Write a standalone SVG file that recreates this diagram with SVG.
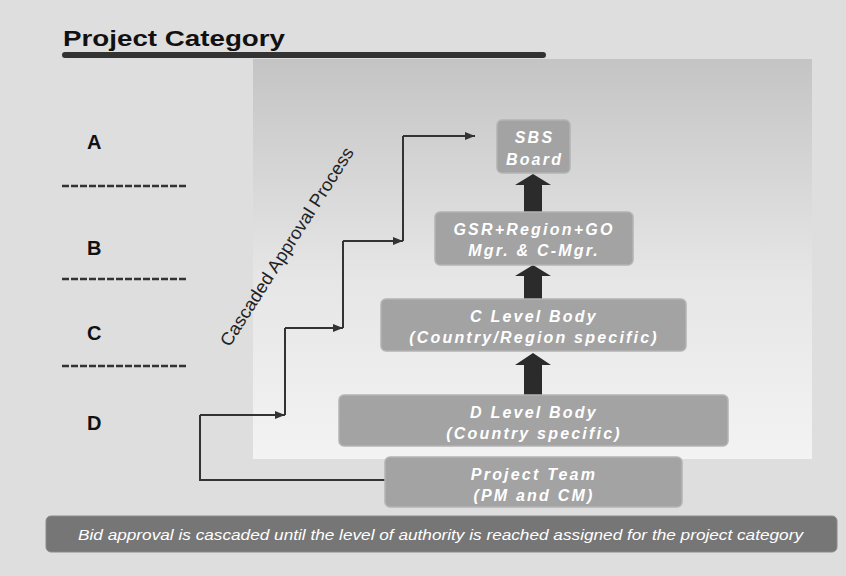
<svg xmlns="http://www.w3.org/2000/svg" width="846" height="576" viewBox="0 0 846 576">
<defs>
<linearGradient id="panelGrad" x1="0" y1="0" x2="0" y2="1">
<stop offset="0" stop-color="#c4c4c4"/>
<stop offset="0.55" stop-color="#e6e6e6"/>
<stop offset="1" stop-color="#f3f3f3"/>
</linearGradient>
<marker id="arr" viewBox="0 0 10 8" refX="10" refY="4" markerWidth="10" markerHeight="8" markerUnits="userSpaceOnUse" orient="auto">
<path d="M0,0 L10,4 L0,8 Z" fill="#333"/>
</marker>
<style>
.box{fill:#a3a3a3;stroke:#b4b4b4;stroke-width:1.5}
.bt{font-family:"Liberation Sans",Arial,sans-serif;font-weight:bold;font-style:italic;font-size:16px;fill:#ffffff;text-anchor:middle;letter-spacing:2.2px}
.cat{font-family:"Liberation Sans",Arial,sans-serif;font-weight:bold;font-size:20px;fill:#111}
.dash{stroke:#333;stroke-width:2.5;stroke-dasharray:7 2;fill:none}
.conn{stroke:#333;stroke-width:2;fill:none}
.big{fill:#2b2b2b}
</style>
</defs>
<rect x="0" y="0" width="846" height="576" fill="#dedede"/>
<rect x="253" y="59" width="559" height="400" fill="url(#panelGrad)"/>

<g id="title">
<text x="63" y="46" font-family="Liberation Sans,Arial,sans-serif" font-weight="bold" font-size="22" fill="#111" textLength="222" lengthAdjust="spacingAndGlyphs">Project Category</text>
<line x1="65" y1="55" x2="543" y2="55" stroke="#333" stroke-width="6" stroke-linecap="round"/>
</g>

<g id="categories">
<text class="cat" x="87" y="149">A</text>
<line class="dash" x1="62" y1="186" x2="188" y2="186"/>
<text class="cat" x="87" y="255">B</text>
<line class="dash" x1="62" y1="279" x2="188" y2="279"/>
<text class="cat" x="87" y="340">C</text>
<line class="dash" x1="62" y1="366" x2="188" y2="366"/>
<text class="cat" x="87" y="430">D</text>
</g>

<g id="cascade-label">
<text transform="translate(292,250) rotate(-57.4)" x="0" y="0" font-family="Liberation Sans,Arial,sans-serif" font-size="18" fill="#222" text-anchor="middle" textLength="232" lengthAdjust="spacingAndGlyphs">Cascaded Approval Process</text>
</g>

<g id="connectors">
<path class="conn" d="M385,480 H200 V415"/>
<path class="conn" d="M200,415 H285" marker-end="url(#arr)"/>
<path class="conn" d="M285,415 V328"/>
<path class="conn" d="M285,328 H343" marker-end="url(#arr)"/>
<path class="conn" d="M343,328 V241"/>
<path class="conn" d="M343,241 H403" marker-end="url(#arr)"/>
<path class="conn" d="M403,241 V136"/>
<path class="conn" d="M403,136 H475" marker-end="url(#arr)"/>
<polygon class="big" points="524,212 524,185 515,185 533,174 551,185 542,185 542,212"/>
<polygon class="big" points="524,299 524,276 515,276 533,265 551,276 542,276 542,299"/>
<polygon class="big" points="524,395 524,365 515,365 533,353 551,365 542,365 542,395"/>
</g>

<g id="sbs-board">
<rect class="box" x="497" y="120" width="73" height="53" rx="5"/>
<text class="bt" x="534.5" y="143">SBS</text>
<text class="bt" x="534.5" y="165">Board</text>
</g>

<g id="gsr">
<rect class="box" x="435" y="212" width="198" height="53" rx="5"/>
<text class="bt" x="534" y="235">GSR+Region+GO</text>
<text class="bt" x="534" y="256">Mgr. &amp; C-Mgr.</text>
</g>

<g id="c-level">
<rect class="box" x="381" y="299" width="305" height="52" rx="5"/>
<text class="bt" x="534" y="322">C Level Body</text>
<text class="bt" x="534" y="343">(Country/Region specific)</text>
</g>

<g id="d-level">
<rect class="box" x="339" y="395" width="389" height="51" rx="5"/>
<text class="bt" x="534" y="418">D Level Body</text>
<text class="bt" x="534" y="439">(Country specific)</text>
</g>

<g id="project-team">
<rect class="box" x="385" y="457" width="297" height="50" rx="5"/>
<text class="bt" x="534" y="480">Project Team</text>
<text class="bt" x="534" y="501">(PM and CM)</text>
</g>

<g id="footer">
<rect x="46" y="516" width="791" height="36" rx="5" fill="#767676" stroke="#8a8a8a" stroke-width="1"/>
<text x="78" y="540" font-family="Liberation Sans,Arial,sans-serif" font-style="italic" font-size="15" fill="#ffffff" textLength="725" lengthAdjust="spacingAndGlyphs">Bid approval is cascaded until the level of authority is reached assigned for the project category</text>
</g>
</svg>
